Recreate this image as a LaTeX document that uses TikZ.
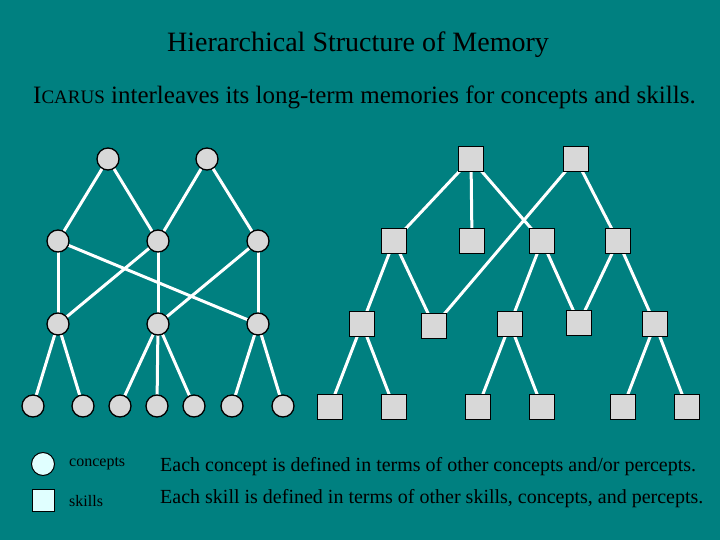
\documentclass[tikz,border=0pt]{standalone}
\usepackage{fontspec}
\setmainfont{Liberation Serif}
\begin{document}
\begin{tikzpicture}[x=1pt,y=-1pt,
  cnode/.style={circle,draw=black,line width=1.3pt,fill={rgb,255:red,216;green,216;blue,216},minimum size=22pt,inner sep=0pt},
  snode/.style={rectangle,draw=black,line width=1.4pt,fill={rgb,255:red,216;green,216;blue,216},minimum size=25pt,inner sep=0pt},
  edge/.style={draw=white,line width=3pt},
  lbl/.style={anchor=west,inner sep=0pt,text=black}]
\fill[fill={rgb,255:red,0;green,128;blue,128}] (0,0) rectangle (720,540);
\useasboundingbox (0,0) rectangle (720,540);
\node[inner sep=0pt] (title) at (358,45) {\fontsize{28}{32}\selectfont Hierarchical Structure of Memory};
\node[lbl] (sub) at (33,97) {\fontsize{25}{29}\selectfont I{\fontsize{19}{22}\selectfont CARUS} interleaves its long-term memories for concepts and skills.};
% left tree
\foreach \n/\x/\y in {t1/108/159,t2/207/159,m1/58/241,m2/158/241,m3/258/241,r1/58/324,r2/158/324,r3/258/324,
 b1/33/406,b2/83/406,b3/120/406,b4/157/406,b5/194/406,b6/232/406,b7/283/406}
  \coordinate (\n) at (\x,\y);
\foreach \a/\b in {t1/m1,t1/m2,t2/m2,t2/m3,m1/r1,m1/r3,m2/r1,m2/r2,m3/r2,m3/r3,r1/b1,r1/b2,r2/b3,r2/b4,r2/b5,r3/b6,r3/b7}
  \draw[edge] (\a) -- (\b);
\foreach \n in {t1,t2,m1,m2,m3,r1,r2,r3,b1,b2,b3,b4,b5,b6,b7}
  \node[cnode] (c\n) at (\n) {};
% right tree
\foreach \n/\x/\y in {T1/471/159,T2/576/159,A/394/241,B/472/241,C/542/241,D/618/241,
 R1/362/324,R2/434/326,R3/510/324,R4/579/323,R5/655/324,
 B1/330/407,B2/394/407,B3/478/407,B4/542/407,B5/623/407,B6/687/407}
  \coordinate (\n) at (\x,\y);
\foreach \a/\b in {T1/A,T1/B,T1/C,T2/R2,T2/D,A/R1,A/R2,C/R3,C/R4,D/R4,D/R5,R1/B1,R1/B2,R3/B3,R3/B4,R5/B5,R5/B6}
  \draw[edge] (\a) -- (\b);
\foreach \n in {T1,T2,A,B,C,D,R1,R2,R3,R4,R5,B1,B2,B3,B4,B5,B6}
  \node[snode] (s\n) at (\n) {};
% legend
\node[circle,draw=black,line width=1pt,fill={rgb,255:red,224;green,255;blue,255},minimum size=23pt,inner sep=0pt] (lc) at (43,464) {};
\node[rectangle,draw=black,line width=1pt,fill={rgb,255:red,224;green,255;blue,255},minimum size=22pt,inner sep=0pt] (ls) at (43,500) {};
\node[lbl] (lct) at (69,464) {\fontsize{16}{18}\selectfont concepts};
\node[lbl] (lst) at (69,501) {\fontsize{16}{18}\selectfont skills};
\node[lbl] (d1) at (160,467) {\fontsize{20}{23}\selectfont Each concept is defined in terms of other concepts and/or percepts.};
\node[lbl] (d2) at (160,499) {\fontsize{20}{23}\selectfont Each skill is defined in terms of other skills, concepts, and percepts.};
\end{tikzpicture}
\end{document}
